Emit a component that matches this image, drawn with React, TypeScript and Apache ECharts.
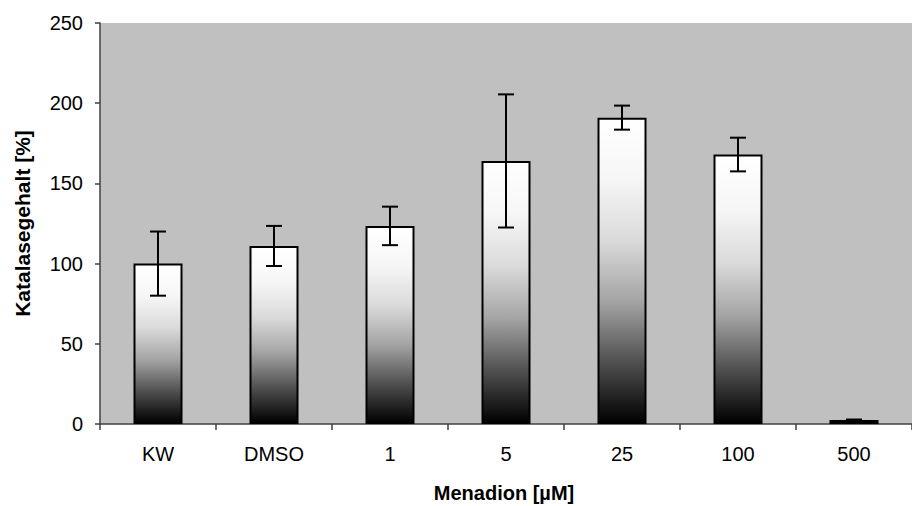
import React, { useEffect, useRef } from "react";
import * as echarts from "echarts";

const categories = ["KW", "DMSO", "1", "5", "25", "100", "500"];
const values = [100, 111, 123.5, 164, 191, 168, 2.5];
const errors = [20, 12.5, 12, 41.5, 7.5, 10.5, 0.3];
const yTicks = { min: 0, max: 250, interval: 50 };
const yName = "Katalasegehalt [%]";
const xName = "Menadion [µM]";

const FONT = "Liberation Sans, Arial, sans-serif";

export default function App() {
  const ref = useRef<HTMLDivElement>(null);
  useEffect(() => {
    if (!ref.current) return;
    const chart = echarts.init(ref.current, null, { renderer: "svg" });
    const errData = values.map((v, i) => [i, v - errors[i], v + errors[i]]);
    chart.setOption({
      animation: false,
      grid: {
        left: 100,
        top: 23,
        width: 826,
        height: 401,
        show: true,
        backgroundColor: "#c0c0c0",
        borderWidth: 0,
      },
      xAxis: {
        type: "category",
        data: categories,
        boundaryGap: true,
        axisLine: { show: true, lineStyle: { color: "#404040", width: 1.5 } },
        axisTick: { show: true, length: 6, alignWithLabel: false, lineStyle: { color: "#404040", width: 1.5 } },
        axisLabel: { color: "#000", fontSize: 20, fontFamily: FONT, margin: 20 },
        splitLine: { show: false },
      },
      yAxis: {
        type: "value",
        min: yTicks.min,
        max: yTicks.max,
        interval: yTicks.interval,
        name: yName,
        nameLocation: "middle",
        nameGap: 67,
        nameTextStyle: { color: "#000", fontSize: 21, fontWeight: "bold", fontFamily: FONT },
        axisLine: { show: true, lineStyle: { color: "#404040", width: 1.5 } },
        axisTick: { show: true, length: 5, lineStyle: { color: "#404040", width: 1.5 } },
        axisLabel: { color: "#000", fontSize: 20, fontFamily: FONT, margin: 17 },
        splitLine: { show: false },
      },
      graphic: [
        {
          type: "text",
          x: 504,
          y: 493,
          style: {
            text: xName,
            fill: "#000",
            fontSize: 20,
            fontWeight: "bold",
            fontFamily: FONT,
            textAlign: "center",
            textVerticalAlign: "middle",
          },
        },
      ],
      series: [
        {
          type: "bar",
          data: values,
          barWidth: 49,
          itemStyle: {
            borderColor: "#000",
            borderWidth: 2,
            color: new echarts.graphic.LinearGradient(0, 0, 0, 1, [
              { offset: 0, color: "#ffffff" },
              { offset: 0.2, color: "#f6f6f6" },
              { offset: 0.4, color: "#dadada" },
              { offset: 0.6, color: "#a4a4a4" },
              { offset: 0.8, color: "#505050" },
              { offset: 1, color: "#000000" },
            ]),
          },
          z: 2,
        },
        {
          type: "custom",
          data: errData,
          z: 3,
          renderItem: (params: any, api: any) => {
            const x = api.value(0);
            const lo = api.coord([x, api.value(1)]);
            const hi = api.coord([x, api.value(2)]);
            const hw = 8;
            const style = { stroke: "#000", lineWidth: 2 };
            return {
              type: "group",
              children: [
                { type: "line", shape: { x1: hi[0], y1: hi[1], x2: lo[0], y2: lo[1] }, style },
                { type: "line", shape: { x1: hi[0] - hw, y1: hi[1], x2: hi[0] + hw, y2: hi[1] }, style },
                { type: "line", shape: { x1: lo[0] - hw, y1: lo[1], x2: lo[0] + hw, y2: lo[1] }, style },
              ],
            };
          },
        },
      ],
    });
    return () => chart.dispose();
  }, []);
  return <div ref={ref} style={{ position: "fixed", left: 0, top: 0, width: 912, height: 506, background: "#fff" }} />;
}
